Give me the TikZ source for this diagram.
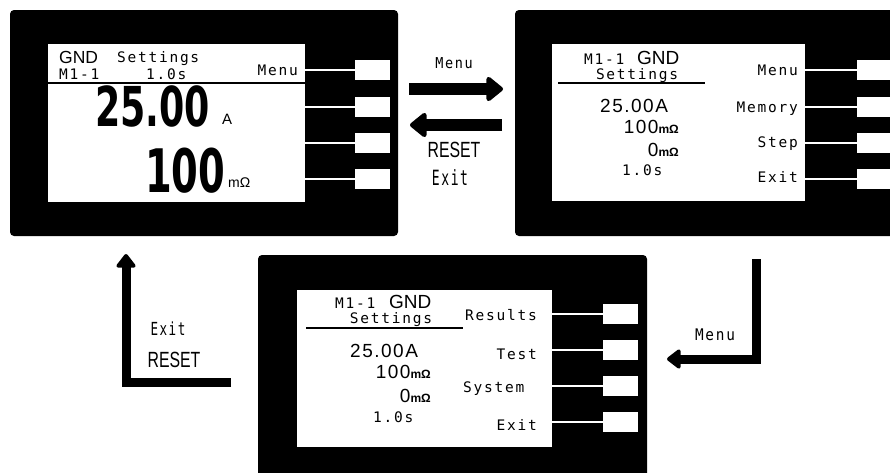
\documentclass[tikz,border=0pt]{standalone}
\usepackage{fontspec}
\usepackage{graphicx}
\usetikzlibrary{arrows.meta}
\newfontfamily\lcd[LetterSpace=12]{DejaVu Sans Mono}
\newfontfamily\lsans{Liberation Sans}
\newfontfamily\lsanssp[LetterSpace=8]{Liberation Sans}
\newfontfamily\bigd{DejaVu Sans}
\newcommand\fsz[1]{\fontsize{#1}{#1}\selectfont}
\newcommand\unitf{\lsans\bfseries\fsz{12}}
\tikzset{
  panel/.style={fill=black, rounded corners=4pt, inner sep=0pt, outer sep=0pt, anchor=north west},
  screen/.style={fill=white, inner sep=0pt, outer sep=0pt, anchor=north west},
  btn/.style={fill=white, inner sep=0pt, outer sep=0pt, anchor=north west, minimum width=35pt, minimum height=20pt},
  wire/.style={draw=white, line width=1.5pt},
  rule/.style={draw=black, line width=1.4pt},
  lbl/.style={font=\lcd\fsz{14.5}, inner sep=0pt},
  hdr/.style={font=\lsans\fsz{19}, inner sep=0pt},
  val/.style={font=\lsanssp\fsz{19}, inner sep=0pt},
  bigarrow/.style={line width=12pt, -{Triangle[width=28pt,length=18pt,round]}},
  larrow/.style={line width=9pt, line join=miter, -{Triangle[width=22pt,length=15pt,round]}},
}
\begin{document}
\begin{tikzpicture}[x=1pt,y=-1pt]
\useasboundingbox (0,0) rectangle (890,472);
\clip (0,0) rectangle (890,472);
% ---------- panel 1 ----------
\node[panel, minimum width=388pt, minimum height=226pt] (p1) at (10,10) {};
\node[screen, minimum width=257pt, minimum height=158pt] (s1) at (48,44) {};
\foreach \i/\y in {a/60,b/97,c/133,d/169}{
  \node[btn] (b1\i) at (355,\y) {};
  \draw[wire] (s1.east |- b1\i.west) -- (b1\i.west);
}
\draw[rule] (s1.west |- 0,83) coordinate (r1a) -- (s1.east |- 0,83) coordinate (r1b);
\node[hdr, anchor=base west, font=\lsans\fsz{17.5}] (t1a) at (59,63) {GND};
\node[lbl, anchor=base west] (t1a2) at (117,62) {Settings};
\node[lbl, anchor=base west] (t1b) at (59,79) {M1-1};
\node[lbl, anchor=base west] (t1c) at (146,79) {1.0s};
\node[lbl, anchor=base east] (t1d) at (298,75) {Menu};
\node[anchor=base west, inner sep=0pt] (t1e) at (95,126) {\scalebox{0.66}[1]{\bigd\bfseries\fsz{55}25.00}};
\node[anchor=base west, inner sep=0pt] (t1f) at (222,124) {\lsans\fsz{15}A};
\node[anchor=base west, inner sep=0pt] (t1g) at (145,192) {\scalebox{0.64}[1]{\bigd\bfseries\fsz{60}100}};
\node[anchor=base west, inner sep=0pt] (t1h) at (228,187) {\lsans\fsz{14}mΩ};
% ---------- panel 2 ----------
\node[panel, minimum width=390pt, minimum height=226pt] (p2) at (515,10) {};
\node[screen, minimum width=253pt, minimum height=157pt] (s2) at (552,44) {};
\foreach \i/\y in {a/60,b/97,c/133,d/169}{
  \node[btn, minimum width=45pt] (b2\i) at (857,\y) {};
  \draw[wire] (s2.east |- b2\i.west) -- (b2\i.west);
}
\draw[rule] (558,83) coordinate (r2a) -- (705,83) coordinate (r2b);
\node[lbl, anchor=base west] (t2a) at (584,64) {M1-1};
\node[hdr, anchor=base west] (t2a2) at (637,64) {GND};
\node[lbl, anchor=base] (t2b) at (637,79) {Settings};
\node[val, anchor=base west] (t2c) at (600,112) {25.00A};
\node[val, anchor=base east] (t2d) at (679,133) {100{\unitf mΩ}};
\node[val, anchor=base east] (t2e) at (679,156) {0{\unitf mΩ}};
\node[lbl, anchor=base west] (t2f) at (622,175) {1.0s};
\node[lbl, anchor=base east] (t2g) at (798,75) {Menu};
\node[lbl, anchor=base east] (t2h) at (798,112) {Memory};
\node[lbl, anchor=base east] (t2i) at (798,147) {Step};
\node[lbl, anchor=base east] (t2j) at (798,182) {Exit};
% ---------- panel 3 ----------
\node[panel, minimum width=389pt, minimum height=240pt] (p3) at (258,255) {};
\node[screen, minimum width=255pt, minimum height=157pt] (s3) at (297,290) {};
\foreach \i/\y in {a/304,b/340,c/376,d/412}{
  \node[btn] (b3\i) at (603,\y) {};
  \draw[wire] (s3.east |- b3\i.west) -- (b3\i.west);
}
\draw[rule] (306,328) coordinate (r3a) -- (463,328) coordinate (r3b);
\node[lbl, anchor=base west] (t3a) at (335,308) {M1-1};
\node[hdr, anchor=base west] (t3a2) at (389,308) {GND};
\node[lbl, anchor=base] (t3b) at (391,323) {Settings};
\node[val, anchor=base west] (t3c) at (350,357) {25.00A};
\node[val, anchor=base east] (t3d) at (431,378) {100{\unitf mΩ}};
\node[val, anchor=base east] (t3e) at (431,402) {0{\unitf mΩ}};
\node[lbl, anchor=base west] (t3f) at (373,422) {1.0s};
\node[lbl, anchor=base west] (t3g) at (465,320) {Results};
\node[lbl, anchor=base east] (t3h) at (537,359) {Test};
\node[lbl, anchor=base west] (t3i) at (463,392) {System};
\node[lbl, anchor=base east] (t3j) at (537,430) {Exit};
% ---------- transitions ----------
\coordinate (a1s) at (409,89);  \coordinate (a1e) at (503,89);
\coordinate (a2s) at (502,125); \coordinate (a2e) at (410,125);
\draw[bigarrow] (a1s) -- (a1e);
\draw[bigarrow] (a2s) -- (a2e);
\node[anchor=base, inner sep=0pt] (m1) at (454,68) {\scalebox{0.9}[1]{\lcd\fsz{15}Menu}};
\node[anchor=base, inner sep=0pt] (m2) at (454,157) {\scalebox{0.72}[1]{\lsans\fsz{22}RESET}};
\node[anchor=base, inner sep=0pt] (m3) at (450,185) {\scalebox{0.62}[1]{\lcd\fsz{21}Exit}};
\coordinate (l1s) at (231,382); \coordinate (l1c) at (126,382); \coordinate (l1e) at (126,254);
\draw[larrow] (l1s) -- (l1c) -- (l1e);
\node[anchor=base, inner sep=0pt] (m4) at (168,335) {\scalebox{0.7}[1]{\lcd\fsz{18}Exit}};
\node[anchor=base, inner sep=0pt] (m5) at (174,367) {\scalebox{0.72}[1]{\lsans\fsz{22}RESET}};
\coordinate (l2s) at (756,259); \coordinate (l2c) at (756,359); \coordinate (l2e) at (667,359);
\draw[larrow] (l2s) -- (l2c) -- (l2e);
\node[anchor=base, inner sep=0pt] (m6) at (715,340) {\scalebox{0.9}[1]{\lcd\fsz{16}Menu}};
\end{tikzpicture}
\end{document}
